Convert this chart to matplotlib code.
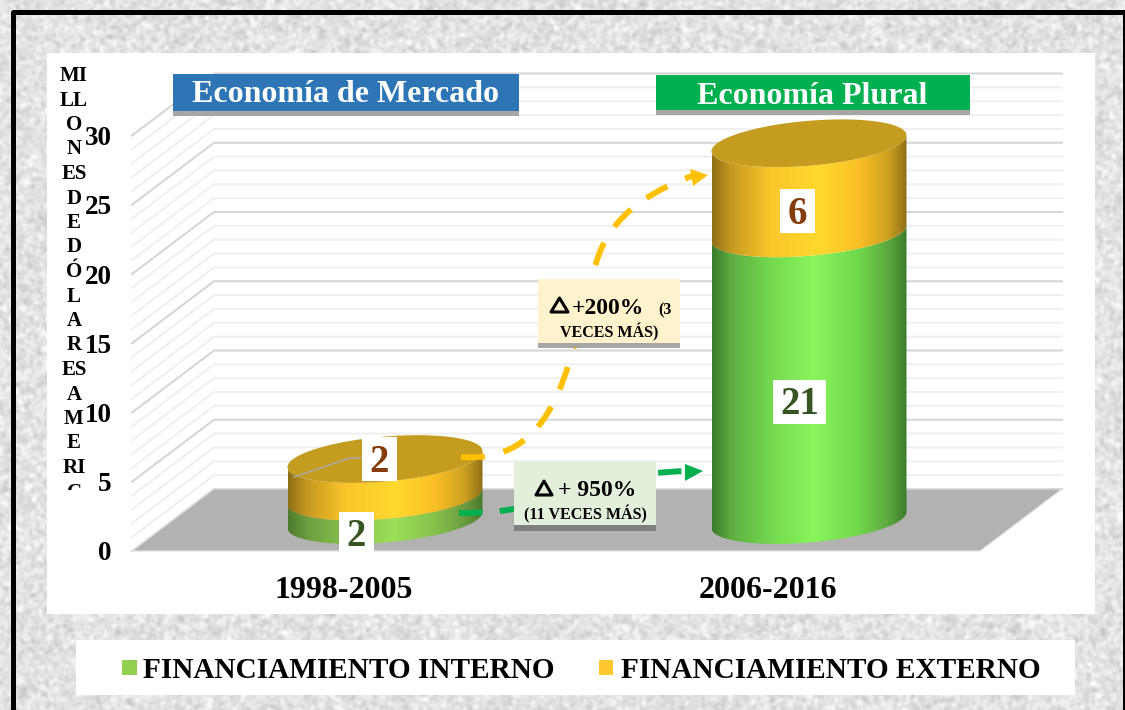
import numpy as np
import matplotlib
matplotlib.use('Agg')
import matplotlib.pyplot as plt
from matplotlib.colors import LinearSegmentedColormap
from matplotlib.patches import Rectangle, Polygon, PathPatch
from matplotlib.path import Path

plt.rcParams['font.family'] = ['Liberation Serif', 'DejaVu Serif']
plt.rcParams['font.weight'] = 'bold'

# Datos
periodos = ['1998-2005', '2006-2016']
interno = [1.7, 20.7]
externo = [2.7, 6.5]
etiquetas_interno = ['2', '21']
etiquetas_externo = ['2', '6']
ticks_y = [0, 5, 10, 15, 20, 25, 30]
titulo_y = 'MI\nLL\nO\nN\nES\nD\nE\nD\nÓ\nL\nA\nR\nES\nA\nM\nE\nRI\nC\nA\nN\nO\nS'

W, H = 1125, 710
fig = plt.figure(figsize=(W / 100, H / 100), dpi=100)

# Fondo: textura gris y marco negro, en pixeles
fondo = fig.add_axes([0, 0, 1, 1], zorder=0)
fondo.set_xlim(0, W)
fondo.set_ylim(H, 0)
fondo.axis('off')

rng = np.random.default_rng(7)
ruido = rng.normal(size=(H, W))
fy = np.fft.fftfreq(H)[:, None]
fx = np.fft.fftfreq(W)[None, :]
suave = np.fft.ifft2(np.fft.fft2(ruido) * np.exp(-(fx**2 + fy**2) * 2 * (np.pi * 1.6)**2)).real
suave = suave / suave.std()
textura = np.clip(226 + 8 * suave, 190, 250)
fondo.imshow(textura, cmap='gray', vmin=0, vmax=255, extent=(0, W, H, 0), aspect='auto')
fondo.set_xlim(0, W)
fondo.set_ylim(H, 0)

fondo.plot([12.5, 12.5, 1124.5, 1124.5], [H, 11.5, 11.5, H], color='black', lw=3.6, solid_joinstyle='round')
fondo.add_patch(Rectangle((47, 53), 1048, 561, fc='white', ec='none'))
fondo.add_patch(Rectangle((76, 640), 999, 55, fc='white', ec='none'))

# Grafico principal: x por categoria, y en millones
ax = fig.add_axes([132 / W, (H - 551) / H, 848 / W, 415.5 / H], zorder=1)
ax.patch.set_visible(False)
for s in ax.spines.values():
    s.set_visible(False)
ax.set_xlim(-0.5, 1.5)
ax.set_ylim(0, 30)
ax.set_xticks([0, 1], periodos, fontsize=23, fontweight='bold')
ax.set_yticks(ticks_y, [str(t) for t in ticks_y], fontsize=19.5, fontweight='bold')
ax.tick_params(axis='x', length=0, pad=18)
ax.tick_params(axis='y', length=0, pad=14.5)

# profundidad del efecto 3D
dx = 82 / 424
dy = 62 / 13.85

for v in range(0, 31):
    color = '#d6d6d6' if v % 5 == 0 else '#f0f0f0'
    ax.plot([-0.5, -0.5 + dx, 1.5 + dx], [v, v + dy, v + dy], color=color, lw=1.5, clip_on=False, zorder=1)

ax.add_patch(Polygon([(-0.5, 0), (-0.5 + dx, dy), (1.5 + dx, dy), (1.5, 0)], fc='#b2b2b2', ec='#e2e2e2', lw=0.8, clip_on=False, zorder=2))

amarillo = [(0, '#8f7018'), (0.1, '#c59a20'), (0.3, '#fdc62b'), (0.55, '#ffd92e'), (0.75, '#fbc026'), (0.9, '#cfa322'), (1, '#8f7018')]
verde1 = [(0, '#4c7a2e'), (0.1, '#6d9e40'), (0.3, '#86c24c'), (0.55, '#9ce058'), (0.75, '#86c24c'), (0.9, '#6d9e40'), (1, '#4c7a2e')]
verde2 = [(0, '#3b7a2c'), (0.1, '#5fae42'), (0.3, '#74d94f'), (0.52, '#8af55c'), (0.75, '#72d84e'), (0.9, '#5eaa40'), (1, '#3f7c2c')]

A = 97.5 / 424
B = 22.5 / 13.85
S = 8 / 13.85


def borde(xc, yc, t):
    return xc + A * np.cos(t), yc + B * np.sin(t) + S * np.cos(t)


def cilindro(xc, y0, y1, stops):
    t = np.linspace(np.pi, 2 * np.pi, 80)
    xb, yb = borde(xc, y0, t)
    xt, yt = borde(xc, y1, t[::-1])
    forma = Polygon(np.column_stack([np.r_[xb, xt], np.r_[yb, yt]]), transform=ax.transData, fc='none', ec='none')
    ax.add_patch(forma)
    forma.set_clip_on(False)
    cmap = LinearSegmentedColormap.from_list('c', stops)
    im = ax.imshow(np.linspace(0, 1, 256)[None, :], cmap=cmap, aspect='auto', extent=(xc - A, xc + A, y0 - 3, y1 + 3), zorder=3)
    im.set_clip_path(forma)


for i in range(2):
    xc = i + dx / 2
    base = dy / 2
    verde = verde1 if i == 0 else verde2
    cilindro(xc, base, base + interno[i], verde)
    cilindro(xc, base + interno[i], base + interno[i] + externo[i], amarillo)
    t = np.linspace(0, 2 * np.pi, 160)
    xt, yt = borde(xc, base + interno[i] + externo[i], t)
    ax.fill(xt, yt, color='#c49c20', lw=0, zorder=4, clip_on=False)

ax.set_xlim(-0.5, 1.5)
ax.set_ylim(0, 30)

# Anotaciones encima del grafico, en pixeles
capa = fig.add_axes([0, 0, 1, 1], zorder=2)
capa.patch.set_visible(False)
capa.axis('off')
capa.set_xlim(0, W)
capa.set_ylim(H, 0)

corte = Rectangle((40, 60), 90, 430, transform=capa.transData, fc='none', ec='none')
capa.add_patch(corte)
ty = capa.text(74, 66, titulo_y, fontsize=15, ha='center', va='top', linespacing=1.3, clip_on=True)
ty.set_clip_path(corte)


def caja(x, y, w, h, color, sombra, hs):
    capa.add_patch(Rectangle((x, y + h), w, hs, fc=sombra, ec='none', zorder=3))
    capa.add_patch(Rectangle((x, y), w, h, fc=color, ec='none', zorder=3))


caja(173, 74, 346, 37, '#2e75b6', '#a6a6a6', 5)
capa.text(345, 95, 'Economía de Mercado', color='white', fontsize=23, ha='center', va='center', zorder=4)
caja(656, 75, 314, 35, '#00b050', '#a6a6a6', 5)
capa.text(812, 97, 'Economía Plural', color='white', fontsize=23, ha='center', va='center', zorder=4)

# flechas discontinuas
ruta_am = Path([(461, 457), (565, 465), (570, 345), (597, 260), (609, 222), (640, 195), (692, 176)],
               [Path.MOVETO, Path.CURVE4, Path.CURVE4, Path.CURVE4, Path.CURVE4, Path.CURVE4, Path.CURVE4])
capa.add_patch(PathPatch(ruta_am, fc='none', ec='#ffc000', lw=4.2, ls=(0, (4.1, 3.3)), capstyle='butt', zorder=2))
capa.add_patch(Polygon([(708, 175), (690, 169), (693, 186)], fc='#ffc000', ec='none', zorder=2))
ruta_ve = Path([(459, 513), (570, 513), (570, 475), (686, 471)], [Path.MOVETO, Path.CURVE4, Path.CURVE4, Path.CURVE4])
capa.add_patch(PathPatch(ruta_ve, fc='none', ec='#00b050', lw=4.2, ls=(0, (4.0, 3.0)), capstyle='butt', zorder=2))
capa.add_patch(Polygon([(703, 471), (685, 464), (685, 481)], fc='#00b050', ec='none', zorder=2))

caja(538, 279, 142, 64, '#fff2cc', '#a6a6a6', 5)
caja(514, 461, 142, 64, '#e2efda', '#7f7f7f', 6)

capa.add_patch(Polygon([(559.5, 298), (568, 312), (551, 312)], fc='none', ec='black', lw=2.2, joinstyle='round', zorder=4))
capa.text(572, 308, '+200%', fontsize=17, ha='left', va='center', zorder=4)
capa.text(658, 310, '(3', fontsize=11.5, ha='left', va='center', zorder=4)
capa.text(609, 332, 'VECES MÁS)', fontsize=11.5, ha='center', va='center', zorder=4)
capa.add_patch(Polygon([(544, 481), (552, 495), (536, 495)], fc='none', ec='black', lw=2.2, joinstyle='round', zorder=4))
capa.text(558, 491, '+ 950%', fontsize=17, ha='left', va='center', zorder=4)
capa.text(585, 514, '(11 VECES MÁS)', fontsize=11.5, ha='center', va='center', zorder=4)

# linea guia de la etiqueta y etiquetas de valor
capa.plot([294, 350, 365], [477, 458, 458], color='#a9a9a9', lw=1.1, zorder=4)
cajas_ext = [(362, 437, 35, 44), (780, 189, 35, 44)]
cajas_int = [(339, 512, 35, 43), (773, 380, 53, 44)]
for (x, y, w, h), txt in zip(cajas_ext, etiquetas_externo):
    capa.add_patch(Rectangle((x, y), w, h, fc='white', ec='none', zorder=5))
    capa.text(x + w / 2, y + h / 2 + 3, txt, color='#843c0c', fontsize=28, ha='center', va='center', zorder=6)
for (x, y, w, h), txt in zip(cajas_int, etiquetas_interno):
    capa.add_patch(Rectangle((x, y), w, h, fc='white', ec='none', zorder=5))
    capa.text(x + w / 2, y + h / 2 + 3, txt, color='#375623', fontsize=28, ha='center', va='center', zorder=6)

# leyenda
capa.add_patch(Rectangle((122, 660), 15, 15, fc='#92d050', ec='none'))
capa.text(143, 670, 'FINANCIAMIENTO INTERNO', fontsize=21.1, ha='left', va='center')
capa.add_patch(Rectangle((599, 660), 14, 15, fc='#ffc82e', ec='none'))
capa.text(621, 670, 'FINANCIAMIENTO EXTERNO', fontsize=21.1, ha='left', va='center')

fig.savefig('out.png', dpi=100)
